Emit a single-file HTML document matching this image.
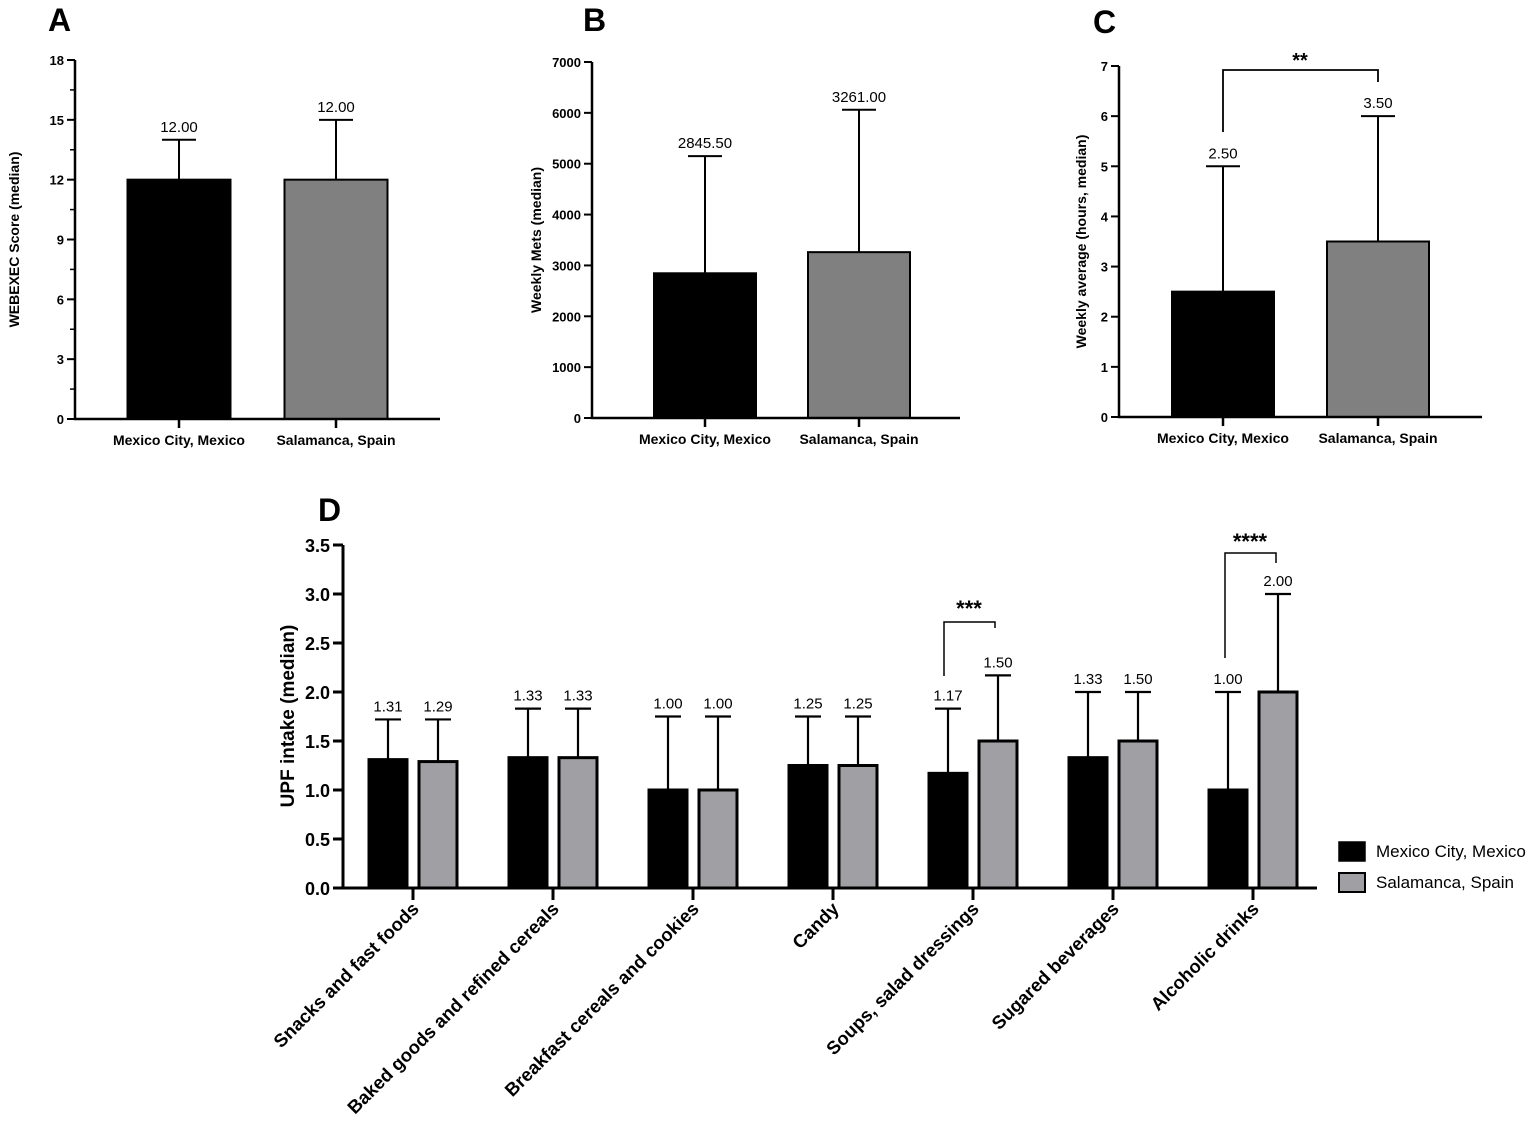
<!DOCTYPE html>
<html><head><meta charset="utf-8"><style>
body{margin:0;background:#fff;width:1535px;height:1132px;overflow:hidden}
svg{font-family:"Liberation Sans",Arial,sans-serif}
</style></head><body>
<svg id="fig" width="1535" height="1132" xmlns="http://www.w3.org/2000/svg"></svg>
<script>
const groupsABC = ["Mexico City, Mexico","Salamanca, Spain"];
const aValues = [12,12];
const aErr = [14,15];
const aLabels = ["12.00","12.00"];
const aTicks = [0,3,6,9,12,15,18];
const bValues = [2845.5,3261];
const bErr = [5150,6060];
const bLabels = ["2845.50","3261.00"];
const bTicks = [0,1000,2000,3000,4000,5000,6000,7000];
const cValues = [2.5,3.5];
const cErr = [5,6];
const cLabels = ["2.50","3.50"];
const cTicks = [0,1,2,3,4,5,6,7];
const dCategories = ["Snacks and fast foods","Baked goods and refined cereals","Breakfast cereals and cookies","Candy","Soups, salad dressings","Sugared beverages","Alcoholic drinks"];
const dMexico = [1.31,1.33,1.00,1.25,1.17,1.33,1.00];
const dMexicoErr = [1.72,1.83,1.75,1.75,1.83,2.00,2.00];
const dSpain = [1.29,1.33,1.00,1.25,1.50,1.50,2.00];
const dSpainErr = [1.72,1.83,1.75,1.75,2.17,2.00,3.00];
const dTicks = [0,0.5,1.0,1.5,2.0,2.5,3.0,3.5];

const NS="http://www.w3.org/2000/svg";
const svg=document.getElementById('fig');
function mk(tag,attrs,parent){const e=document.createElementNS(NS,tag);for(const k in attrs)e.setAttribute(k,attrs[k]);(parent||svg).appendChild(e);return e;}
function txt(s,attrs,parent){const e=mk('text',attrs,parent);e.textContent=s;return e;}

function panel(o){
  const g=mk('g',{});
  
  
  const y=v=>o.y0-(v/o.max)*(o.y0-o.yTop);
  const letter=txt(o.letter,{x:o.lx,y:o.ly,'font-size':32,'font-weight':'bold'},g);
  
  
  o.values.forEach((v,i)=>{
    const cx=o.centers[i];
    const r=mk('rect',{x:cx-o.bw/2,y:y(v),width:o.bw,height:o.y0-y(v),fill:o.fills[i],stroke:'#000','stroke-width':2},g);
    
    
    const e=mk('path',{d:`M${cx},${y(v)}V${y(o.err[i])}M${cx-17},${y(o.err[i])}H${cx+17}`,stroke:'#000','stroke-width':2,fill:'none'},g);
    
    
    const t=txt(o.labels[i],{x:cx,y:y(o.err[i])-8,'font-size':15,'text-anchor':'middle'},g);
    
    
    const c=txt(o.cats[i],{x:cx,y:o.y0+26,'font-size':14,'font-weight':'bold','text-anchor':'middle'},g);
    
    
    mk('line',{x1:cx,x2:cx,y1:o.y0,y2:o.y0+9,stroke:'#000','stroke-width':2.5},g);
  });
  const ax=mk('path',{d:`M${o.ax},${o.yTop}V${o.y0}H${o.xEnd}`,stroke:'#000','stroke-width':2.5,fill:'none'},g);
  
  
  o.ticks.forEach((t,i)=>{
    mk('line',{x1:o.ax-8,x2:o.ax,y1:y(t),y2:y(t),stroke:'#000','stroke-width':2},g);
    const l=txt(String(t),{x:o.ax-11,y:y(t)+5,'font-size':13,'font-weight':'bold','text-anchor':'end'},g);
    
    
    if(o.minor&&i<o.ticks.length-1){const m=(t+o.ticks[i+1])/2;mk('line',{x1:o.ax-5,x2:o.ax,y1:y(m),y2:y(m),stroke:'#000','stroke-width':1.5},g);}
  });
  const yt=txt(o.ytitle,{x:0,y:0,'font-size':14,'font-weight':'bold','text-anchor':'middle',transform:`translate(${o.ytx},${(o.y0+o.yTop)/2}) rotate(-90)`},g);
  
  
  return {g,y};
}

panel({name:'panel-a',letter:'A',lx:48,ly:31,values:aValues,err:aErr,labels:aLabels,ticks:aTicks,cats:groupsABC,max:18,y0:419,yTop:60,ax:75,xEnd:440,centers:[179,336],bw:103,fills:['#000','#808080'],minor:true,ytitle:'WEBEXEC Score (median)',ytx:19});
panel({name:'panel-b',letter:'B',lx:583,ly:31,values:bValues,err:bErr,labels:bLabels,ticks:bTicks,cats:groupsABC,max:7000,y0:418,yTop:62,ax:592,xEnd:960,centers:[705,859],bw:102,fills:['#000','#808080'],minor:false,ytitle:'Weekly Mets (median)',ytx:541});
const pc=panel({name:'panel-c',letter:'C',lx:1093,ly:33,values:cValues,err:cErr,labels:cLabels,ticks:cTicks,cats:groupsABC,max:7,y0:417,yTop:66,ax:1119,xEnd:1482,centers:[1223,1378],bw:102,fills:['#000','#808080'],minor:false,ytitle:'Weekly average (hours, median)',ytx:1086});
const br=mk('path',{d:'M1223,132V70H1378V82',stroke:'#000','stroke-width':1.8,fill:'none'},pc.g);


const st=txt('**',{x:1300,y:67,'font-size':20,'font-weight':'bold','text-anchor':'middle'},pc.g);



const gd=mk('g',{});


const dY0=888,dTop=545,dMax=3.5,dAx=343;
const yD=v=>dY0-(v/dMax)*(dY0-dTop);
const xD=i=>413+i*140;
const dl=txt('D',{x:318,y:521,'font-size':32,'font-weight':'bold'},gd);


function dBar(cx,v,e,fill,lab){
  const r=mk('rect',{x:cx-19,y:yD(v),width:38,height:dY0-yD(v),fill:fill,stroke:'#000','stroke-width':3},gd);
  
  
  const p=mk('path',{d:`M${cx},${yD(v)}V${yD(e)}M${cx-13},${yD(e)}H${cx+13}`,stroke:'#000','stroke-width':2.2,fill:'none'},gd);
  
  
  const t=txt(lab,{x:cx,y:yD(e)-8,'font-size':15,'text-anchor':'middle'},gd);
  
  
}
dCategories.forEach((c,i)=>{
  dBar(xD(i)-25,dMexico[i],dMexicoErr[i],'#000',dMexico[i].toFixed(2));
  dBar(xD(i)+25,dSpain[i],dSpainErr[i],'#a0a0a4',dSpain[i].toFixed(2));
  mk('line',{x1:xD(i),x2:xD(i),y1:dY0,y2:dY0+12,stroke:'#000','stroke-width':3},gd);
  const t=txt(c,{x:0,y:0,'font-size':18.5,'font-weight':'bold','text-anchor':'end',transform:`translate(${xD(i)+7},${dY0+22}) rotate(-45)`},gd);
  
  
});
const dax=mk('path',{d:`M${dAx},${dTop}V${dY0}H1317`,stroke:'#000','stroke-width':3,fill:'none'},gd);


dTicks.forEach(t=>{
  mk('line',{x1:dAx-10,x2:dAx,y1:yD(t),y2:yD(t),stroke:'#000','stroke-width':3},gd);
  const l=txt(t.toFixed(1),{x:dAx-13,y:yD(t)+7,'font-size':18,'font-weight':'bold','text-anchor':'end'},gd);
  
  
});
const dyt=txt('UPF intake (median)',{x:0,y:0,'font-size':19,'font-weight':'bold','text-anchor':'middle',transform:'translate(294,716) rotate(-90)'},gd);


const b5=mk('path',{d:'M944,676V622H995V628',stroke:'#000','stroke-width':1.5,fill:'none'},gd);


const s5=txt('***',{x:969,y:616,'font-size':22,'font-weight':'bold','text-anchor':'middle'},gd);


const b7=mk('path',{d:'M1225,658V553H1276V563',stroke:'#000','stroke-width':1.5,fill:'none'},gd);


const s7=txt('****',{x:1250,y:549,'font-size':22,'font-weight':'bold','text-anchor':'middle'},gd);


const lg=mk('g',{},gd);


const l1=mk('rect',{x:1339,y:842,width:26,height:19,fill:'#000',stroke:'#000','stroke-width':1.5},lg);


const t1=txt('Mexico City, Mexico',{x:1376,y:857,'font-size':17},lg);


const l2=mk('rect',{x:1339,y:873,width:26,height:19,fill:'#a0a0a4',stroke:'#000','stroke-width':2},lg);


const t2=txt('Salamanca, Spain',{x:1376,y:888,'font-size':17},lg);


</script>
</body></html>
